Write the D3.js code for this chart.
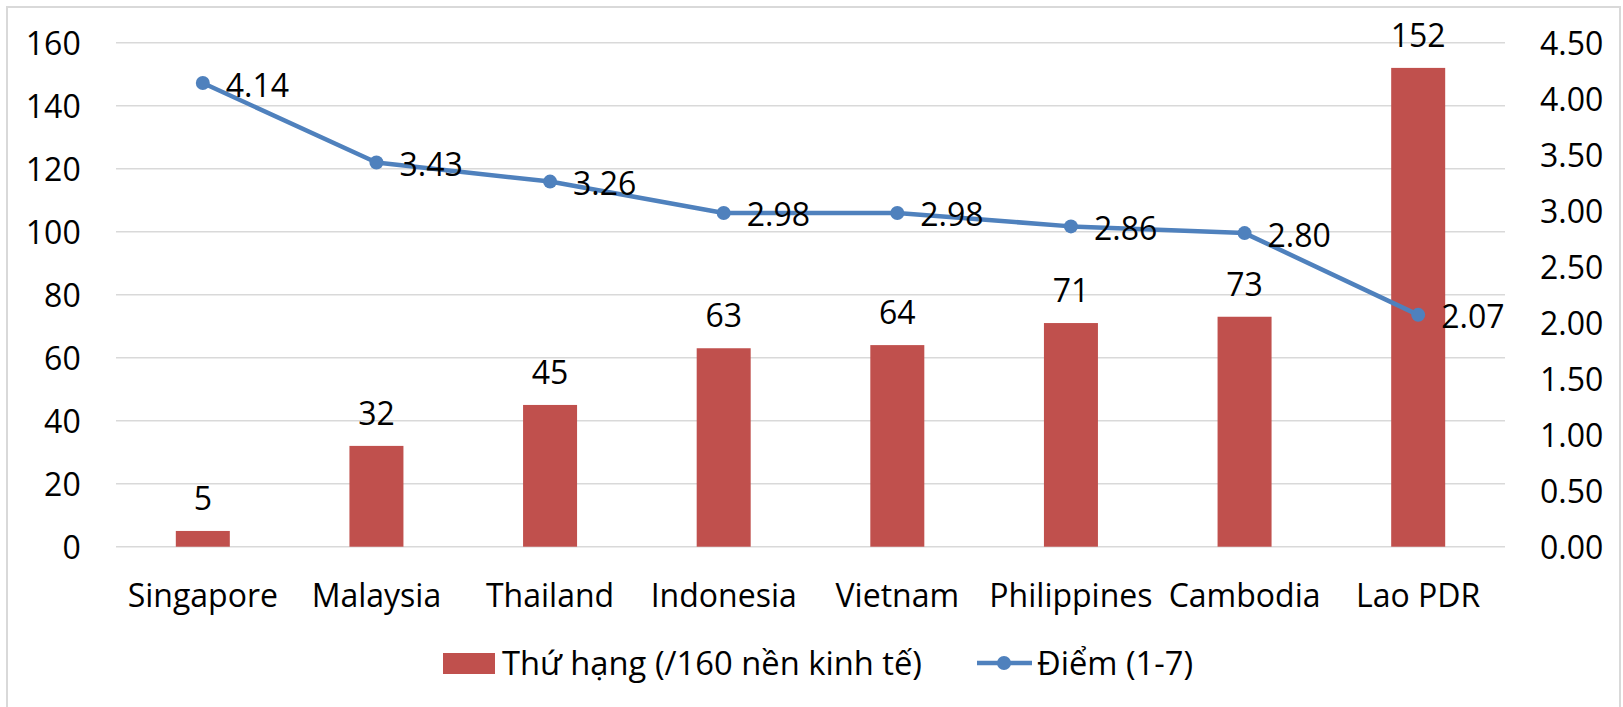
<!DOCTYPE html>
<html>
<head>
<meta charset="utf-8">
<script src="https://cdn.jsdelivr.net/npm/d3@7"></script>
<style>
  html, body { margin: 0; padding: 0; background: #fff; }
  svg { display: block; }
  text { font-family: "Open Sans", sans-serif; fill: #000; }
</style>
</head>
<body>
<svg id="chart" width="1623" height="707"></svg>
<script>
// ASEAN economies: rank out of 160 economies (bars) and score 1-7 (line)
const categories = ["Singapore", "Malaysia", "Thailand", "Indonesia", "Vietnam", "Philippines", "Cambodia", "Lao PDR"];
const rankValues = [5, 32, 45, 63, 64, 71, 73, 152];
const scoreValues = [4.14, 3.43, 3.26, 2.98, 2.98, 2.86, 2.80, 2.07];
const leftTicks = [0, 20, 40, 60, 80, 100, 120, 140, 160];
const rightTicks = [0, 0.5, 1, 1.5, 2, 2.5, 3, 3.5, 4, 4.5];
const seriesNames = ["Thứ hạng (/160 nền kinh tế)", "Điểm (1-7)"];

const barColor = "#C0504D";
const lineColor = "#4F81BD";
const gridColor = "#D9D9D9";

const svg = d3.select("#chart");

const plot = { left: 116, right: 1505, top: 42.7, bottom: 546.7 };

const x = d3.scaleBand().domain(categories).range([plot.left, plot.right]);
const yLeft = d3.scaleLinear().domain([0, 160]).range([plot.bottom, plot.top]);
const yRight = d3.scaleLinear().domain([0, 4.5]).range([plot.bottom, plot.top]);
const barW = x.bandwidth() * 0.311;
const cx = d => x(d) + x.bandwidth() / 2;

// outer frame
svg.append("rect")
  .attr("x", 7).attr("y", 7).attr("width", 1613).attr("height", 710)
  .attr("fill", "none").attr("stroke", gridColor).attr("stroke-width", 2);

// horizontal gridlines
svg.append("g").selectAll("line").data(leftTicks).join("line")
  .attr("x1", plot.left).attr("x2", plot.right)
  .attr("y1", d => yLeft(d)).attr("y2", d => yLeft(d))
  .attr("stroke", gridColor).attr("stroke-width", 1.5);

// left axis
const leftAxis = svg.append("g")
  .attr("transform", `translate(80.7,0)`)
  .call(d3.axisLeft(yLeft).tickValues(leftTicks).tickSize(0).tickPadding(0));
leftAxis.select(".domain").remove();
leftAxis.selectAll("text")
  .style("font-family", '"Open Sans", sans-serif')
  .style("font-size", "32px").attr("fill", "#000").attr("dy", "0.36em");

// right axis
const rightAxis = svg.append("g")
  .attr("transform", `translate(1540,0)`)
  .call(d3.axisRight(yRight).tickValues(rightTicks).tickFormat(d3.format(".2f")).tickSize(0).tickPadding(0));
rightAxis.select(".domain").remove();
rightAxis.selectAll("text")
  .style("font-family", '"Open Sans", sans-serif')
  .style("font-size", "32px").attr("fill", "#000").attr("dy", "0.36em");

// category axis labels
const bottomAxis = svg.append("g")
  .attr("transform", `translate(0,${plot.bottom})`)
  .call(d3.axisBottom(x).tickSize(0).tickPadding(0));
bottomAxis.select(".domain").remove();
bottomAxis.selectAll("text")
  .style("font-family", '"Open Sans", sans-serif')
  .style("font-size", "32px").attr("fill", "#000")
  .attr("y", 60).attr("dy", 0);

// bars
svg.append("g").selectAll("rect").data(categories).join("rect")
  .attr("x", d => cx(d) - barW / 2)
  .attr("width", barW)
  .attr("y", (d, i) => yLeft(rankValues[i]))
  .attr("height", (d, i) => plot.bottom - yLeft(rankValues[i]))
  .attr("fill", barColor);

// bar value labels
svg.append("g").selectAll("text").data(categories).join("text")
  .attr("x", d => cx(d))
  .attr("y", (d, i) => yLeft(rankValues[i]) - 21)
  .attr("text-anchor", "middle")
  .style("font-size", "32px")
  .text((d, i) => rankValues[i]);

// score line
const line = d3.line()
  .x(d => cx(d))
  .y((d, i) => yRight(scoreValues[i]));
svg.append("path")
  .datum(categories)
  .attr("d", line)
  .attr("fill", "none")
  .attr("stroke", lineColor)
  .attr("stroke-width", 4.5)
  .attr("stroke-linejoin", "round");

svg.append("g").selectAll("circle").data(categories).join("circle")
  .attr("cx", d => cx(d))
  .attr("cy", (d, i) => yRight(scoreValues[i]))
  .attr("r", 7)
  .attr("fill", lineColor);

// score value labels
svg.append("g").selectAll("text").data(categories).join("text")
  .attr("x", d => cx(d) + 23)
  .attr("y", (d, i) => yRight(scoreValues[i]) + 2)
  .attr("dy", "0.36em")
  .style("font-size", "32px")
  .text((d, i) => d3.format(".2f")(scoreValues[i]));

// legend
const legend = svg.append("g");
legend.append("rect")
  .attr("x", 443).attr("y", 653).attr("width", 52).attr("height", 21)
  .attr("fill", barColor);
legend.append("text")
  .attr("x", 502).attr("y", 663).attr("dy", "0.36em")
  .attr("textLength", 420).attr("lengthAdjust", "spacingAndGlyphs")
  .style("font-size", "32px")
  .text(seriesNames[0]);
legend.append("line")
  .attr("x1", 977).attr("x2", 1032).attr("y1", 663).attr("y2", 663)
  .attr("stroke", lineColor).attr("stroke-width", 4.5);
legend.append("circle")
  .attr("cx", 1004).attr("cy", 663).attr("r", 7).attr("fill", lineColor);
legend.append("text")
  .attr("x", 1037).attr("y", 663).attr("dy", "0.36em")
  .attr("textLength", 156).attr("lengthAdjust", "spacingAndGlyphs")
  .style("font-size", "32px")
  .text(seriesNames[1]);
</script>
</body>
</html>
